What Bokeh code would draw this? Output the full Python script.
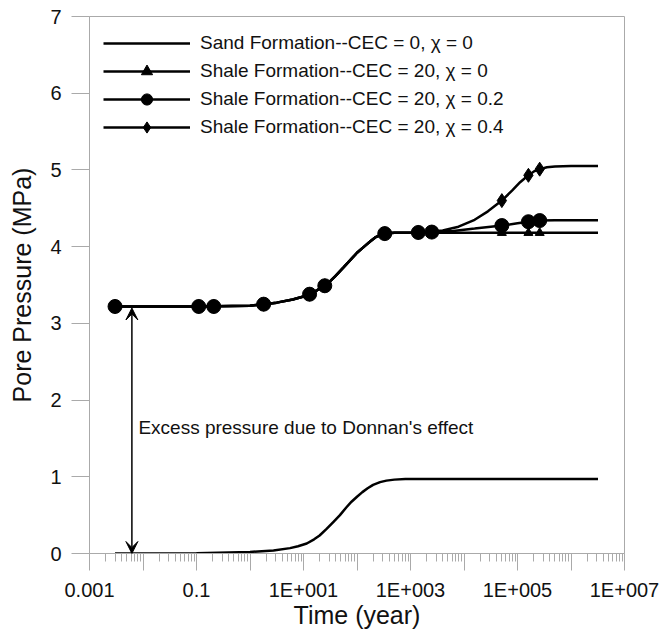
from bokeh.plotting import figure
from bokeh.models import (Range1d, FixedTicker, CustomJSTickFormatter, Legend,
                          LegendItem, Arrow, VeeHead, Label)
from bokeh.embed import file_html
from bokeh.resources import INLINE

# ---------------- data ----------------
# Sand formation, CEC = 0, chi = 0
sand_t = [0.003, 0.01, 0.1, 1, 2.75, 5.6, 7.9, 11.5, 15.8, 20, 27, 36, 48, 63, 79,
          100, 126, 158, 200, 270, 355, 500, 800, 3000, 3.2e6]
sand_p = [0.0, 0.0, 0.002, 0.02, 0.04, 0.07, 0.095, 0.13, 0.185, 0.235, 0.32, 0.41,
          0.5, 0.6, 0.675, 0.74, 0.8, 0.85, 0.895, 0.93, 0.95, 0.963, 0.97, 0.97, 0.97]

# common shale part (all shale curves coincide up to ~1000 years)
shale_t = [0.003, 0.1, 1, 1.78, 3.16, 6.3, 10, 12.9, 17.8, 24.5, 31.6, 39.8, 56, 74,
           100, 141, 178, 219, 282, 331, 500, 1000]
shale_p = [3.22, 3.22, 3.23, 3.25, 3.27, 3.31, 3.35, 3.38, 3.43, 3.49, 3.55, 3.62,
           3.73, 3.82, 3.92, 4.01, 4.07, 4.12, 4.155, 4.17, 4.18, 4.18]

chi0_t = [3.2e6]
chi0_p = [4.18]
chi02_t = [2500, 6300, 15800, 31600, 51000, 1e5, 1.6e5, 2.6e5, 5e5, 3.2e6]
chi02_p = [4.19, 4.205, 4.235, 4.26, 4.275, 4.305, 4.325, 4.34, 4.345, 4.345]
chi04_t = [2000, 4000, 7900, 15800, 28000, 51000, 79000, 112000, 160000, 209000,
           263000, 355000, 500000, 1e6, 3.2e6]
chi04_p = [4.19, 4.21, 4.26, 4.35, 4.46, 4.6, 4.73, 4.84, 4.93, 4.985, 5.01, 5.035,
           5.045, 5.05, 5.05]

# marker positions
mark_t = [0.003, 0.11, 0.21, 1.8, 13, 25, 330, 1400, 2500, 51000, 160000, 260000]
mark_chi0 = [3.22, 3.22, 3.22, 3.25, 3.38, 3.49, 4.17, 4.18, 4.18, 4.18, 4.18, 4.18]
mark_chi02 = [3.22, 3.22, 3.22, 3.25, 3.38, 3.49, 4.17, 4.185, 4.19, 4.275, 4.325, 4.34]
mark_chi04 = [3.22, 3.22, 3.22, 3.25, 3.38, 3.49, 4.17, 4.185, 4.19, 4.6, 4.93, 5.01]

series_labels = ["Sand Formation--CEC = 0, \u03c7 = 0",
                 "Shale Formation--CEC = 20, \u03c7 = 0",
                 "Shale Formation--CEC = 20, \u03c7 = 0.2",
                 "Shale Formation--CEC = 20, \u03c7 = 0.4"]

x_major_exps = list(range(-3, 8))
x_label_exps = [-3, -1, 1, 3, 5, 7]
x_label_texts = ["0.001", "0.1", "1E+001", "1E+003", "1E+005", "1E+007"]
y_ticks = [0, 1, 2, 3, 4, 5, 6, 7]

annot_text = "Excess pressure due to Donnan's effect"
arrow_t = 0.0062
annot_t = 0.0082
annot_p = 1.645

# ---------------- figure ----------------
FONT = "Liberation Sans"
GREY = "#aaaaaa"

p = figure(width=659, height=631, x_axis_type="log",
           x_range=Range1d(1e-3, 1e7), y_range=Range1d(0, 7),
           output_backend="svg", toolbar_location=None,
           min_border_left=89, min_border_right=35,
           min_border_top=16, min_border_bottom=78)
p.grid.visible = False
p.outline_line_color = GREY
p.background_fill_color = "white"
p.border_fill_color = "white"

# x axis
p.xaxis.ticker = FixedTicker(
    ticks=[10.0 ** e for e in x_major_exps],
    minor_ticks=[k * 10.0 ** e for e in x_major_exps[:-1] for k in range(2, 10)])
p.xaxis.formatter = CustomJSTickFormatter(
    args=dict(exps=x_label_exps, texts=x_label_texts),
    code="const e = Math.round(Math.log10(tick)); const i = exps.indexOf(e); "
         "return i >= 0 ? texts[i] : '';")
p.xaxis.major_tick_out = 17
p.xaxis.major_tick_in = 0
p.xaxis.minor_tick_out = 8
p.xaxis.minor_tick_in = 0
p.xaxis.major_label_standoff = 8
p.xaxis.axis_label = "Time (year)"
p.xaxis.axis_label_standoff = -3

# y axis
p.yaxis.ticker = FixedTicker(ticks=y_ticks, minor_ticks=[])
p.yaxis.major_tick_out = 18
p.yaxis.major_tick_in = 0
p.yaxis.minor_tick_out = 0
p.yaxis.minor_tick_in = 0
p.yaxis.major_label_standoff = 10
p.yaxis.axis_label = "Pore Pressure (MPa)"
p.yaxis.axis_label_standoff = 11

for ax in (p.xaxis, p.yaxis):
    ax.axis_line_color = GREY
    ax.major_tick_line_color = GREY
    ax.minor_tick_line_color = GREY
    ax.major_label_text_font = FONT
    ax.major_label_text_font_size = "20px"
    ax.major_label_text_color = "#111111"
    ax.axis_label_text_font = FONT
    ax.axis_label_text_font_size = "25px"
    ax.axis_label_text_font_style = "normal"
    ax.axis_label_text_color = "#111111"

LW = 2.5
# sand
r_sand = p.line(sand_t, sand_p, line_color="black", line_width=LW)

# shale chi = 0 (triangles)
r0_line = p.line(shale_t + chi0_t, shale_p + chi0_p, line_color="black", line_width=LW)
r0_mark = p.scatter(mark_t, mark_chi0, marker="triangle", size=9,
                    fill_color="black", line_color="black")
# shale chi = 0.4 (diamonds)
r4_line = p.line(shale_t + chi04_t, shale_p + chi04_p, line_color="black", line_width=LW)
r4_mark = p.scatter(mark_t, mark_chi04, marker="diamond", size=14,
                    fill_color="black", line_color="black")
# shale chi = 0.2 (circles)
r2_line = p.line(shale_t + chi02_t, shale_p + chi02_p, line_color="black", line_width=LW)
r2_mark = p.scatter(mark_t, mark_chi02, marker="circle", size=14,
                    fill_color="black", line_color="black")

legend = Legend(items=[
    LegendItem(label=series_labels[0], renderers=[r_sand]),
    LegendItem(label=series_labels[1], renderers=[r0_line, r0_mark]),
    LegendItem(label=series_labels[2], renderers=[r2_line, r2_mark]),
    LegendItem(label=series_labels[3], renderers=[r4_line, r4_mark]),
], location=(14, 412))
legend.border_line_color = None
legend.background_fill_alpha = 0
legend.padding = 0
legend.margin = 0
legend.spacing = 0
legend.glyph_width = 87
legend.glyph_height = 28
legend.label_height = 20
legend.label_standoff = 10
legend.label_text_font = FONT
legend.label_text_font_size = "19px"
legend.label_text_color = "#111111"
p.add_layout(legend)

# annotation
p.add_layout(Arrow(start=VeeHead(size=12, fill_color="black", line_color="black"),
                   end=VeeHead(size=12, fill_color="black", line_color="black"),
                   x_start=arrow_t, y_start=sand_p[0],
                   x_end=arrow_t, y_end=shale_p[0] - 0.02,
                   line_color="black", line_width=1.5))
p.add_layout(Label(x=annot_t, y=annot_p, text=annot_text, text_baseline="middle",
                   text_align="left", text_font=FONT, text_font_size="19px",
                   text_color="#111111"))

open("out.html", "w").write(file_html(p, INLINE))
